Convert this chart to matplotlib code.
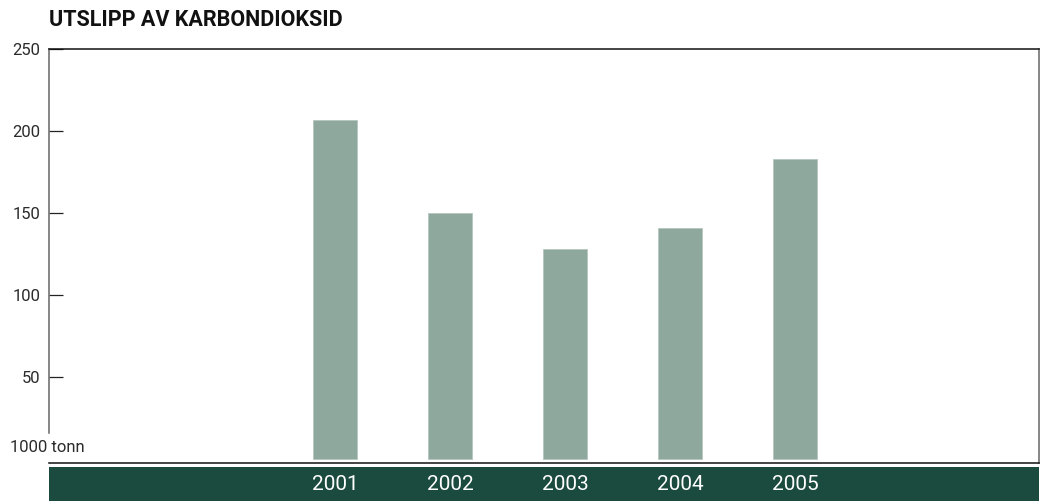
import matplotlib.pyplot as plt

years = ['2001', '2002', '2003', '2004', '2005']
emissions = [207, 150, 128, 141, 183]
y_ticks = [50, 100, 150, 200, 250]

BAR = '#8fa89d'
BAND = '#1b4a3e'
TXT = '#2b2b2b'

plt.rcParams['font.family'] = ['Roboto', 'DejaVu Sans']

fig = plt.figure(figsize=(10.41, 5.01), dpi=100)
ax = fig.add_axes([49 / 1041, 38 / 501, 990 / 1041, 414 / 501])

x = range(len(years))
ax.bar(x, emissions, width=0.39, color=BAR, edgecolor='#b4c6be', linewidth=0.6)

ax.set_xlim(-2.487, 6.122)
ax.set_ylim(-2.5, 250)
ax.set_xticks([])
ax.set_yticks(y_ticks)
ax.set_yticklabels([str(t) for t in y_ticks], fontsize=12, color=TXT)
ax.tick_params(axis='y', direction='in', length=10, width=0.9, color='#222222', pad=6)

ax.spines['left'].set_bounds(16, 250)
ax.spines['left'].set_color('#666666')
ax.spines['right'].set_color('#666666')
ax.spines['top'].set_color('#111111')
ax.spines['bottom'].set_color('#111111')
for s in ax.spines.values():
    s.set_linewidth(1.1)

fig.text(10 / 1041, 1 - 448 / 501, '1000 tonn', ha='left', va='center',
         fontsize=12, color=TXT)
fig.text(49 / 1041, 1 - 20 / 501, 'UTSLIPP AV KARBONDIOKSID', ha='left', va='center',
         fontsize=15.5, fontweight='bold', color='#111111')

# dark band with the year labels under the plot
band = fig.add_axes([49 / 1041, 0, 990 / 1041, 34 / 501])
band.set_facecolor(BAND)
band.set_xlim(ax.get_xlim())
band.set_ylim(0, 1)
for s in band.spines.values():
    s.set_visible(False)
band.set_xticks([])
band.set_yticks([])
for i, yr in enumerate(years):
    band.text(i, 0.5, yr, ha='center', va='center', fontsize=15, color='white')

fig.savefig('out.png', dpi=100)
